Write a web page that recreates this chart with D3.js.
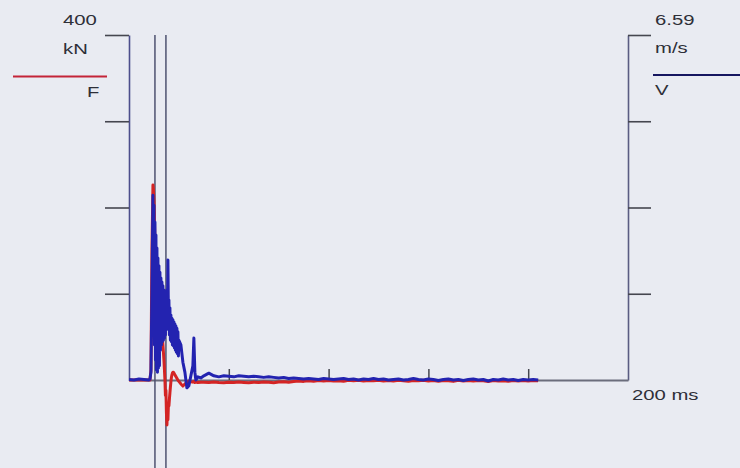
<!DOCTYPE html>
<html>
<head>
<meta charset="utf-8">
<script src="https://cdn.jsdelivr.net/npm/d3@7"></script>
<style>
  html, body { margin: 0; padding: 0; background: #e9ebf2; }
  svg { display: block; }
  text { font-family: "Liberation Sans", Arial, sans-serif; fill: #2e2f38; }
</style>
</head>
<body>
<svg id="chart" width="740" height="468"></svg>
<script>
// Sample times (ms) shared by both traces
const timeMs = [
  0, 2, 4, 6, 8, 8.4, 8.8, 9.2,
  9.6, 9.8, 10.0, 10.2, 10.4, 10.6, 10.8, 11.0, 11.2, 11.4,
  11.6, 11.8, 12.0, 12.2, 12.4, 12.6, 12.8, 13.0, 13.2, 13.4,
  13.6, 13.8, 14.0, 14.2, 14.4, 14.6, 14.8, 15.0, 15.2, 15.4,
  15.6, 15.8, 16.0, 16.2, 16.4, 16.6, 16.8, 17.0, 17.2, 17.4,
  17.6, 17.8, 18.0, 18.2, 18.4, 18.6, 18.8, 19.0, 19.2, 19.4,
  19.6, 19.8, 20.0,
  20.8, 21.6, 22.4, 23.2, 24.0, 24.8, 25.6, 26.0, 26.4, 26.8, 27.6, 28.8,
  30, 32, 34, 36, 38, 40, 42, 44, 46, 48, 50, 52, 54, 56, 58, 60, 62, 64, 66,
  68, 70, 72, 74, 76, 78, 80, 82, 84, 86, 88, 90, 92, 94, 96, 98, 100, 102, 104,
  106, 108, 110, 112, 114, 116, 118, 120, 122, 124, 126, 128, 130, 132, 134, 136,
  138, 140, 142, 144, 146, 148, 150, 152, 154, 156, 158, 160, 162, 164
];

// Force F (kN)
const forceKN = [
  0, 0, 0, 0, 0, 0, 11.6, 150.7,
  226.1, 220, 208.7, 185, 162.3, 138, 115.9, 100, 92.8, 98,
  104.3, 92, 81.2, 87, 92.8, 80, 69.6, 64, 58.0, 49,
  40.6, 32, 23.2, 12, 0, -18, -12, -38, -52.2, -36,
  -46, -28, -30, -22, -15, -8, -2, 3, 6, 8,
  9, 9, 8, 7, 6, 5, 4, 3, 2, 1,
  0, -1, -1.5,
  -4.6, -7.0, -4.6, -3.5, -1.2, -2.0, -2.5, -1.5, -2.8, -2.2, -3.0, -2.6,
  -2.5, -3.0, -2.2, -2.8, -3.2, -2.5, -3.0, -2.4, -2.9, -3.3, -2.6, -2.9, -2.2, -2.7, -3.1, -2.4, -2.0, -2.6, -1.8,
  -1.2, -1.6, -0.9, -1.4, -0.6, -1.1, -0.5, -1.3, -0.8, -1.5, -0.4, -1.0, -0.3, -1.2, -0.6, -0.9, -0.2, -1.1, -0.5,
  -1.3, -0.4, -0.8, -1.5, -0.6, -1.0, -0.3, -1.2, -0.7, -1.4, -0.5, -0.9, -1.6, -0.4, -1.1, -0.7,
  -1.3, -0.5, -1.0, -1.8, -0.6, -1.2, -0.8, -1.4, -0.5, -1.1, -0.7, -1.3, -0.6, -0.9
];

// Velocity V (m/s)
const velocityMS = [
  0.01, 0.00, 0.02, 0.01, 0.00, 0.02, 0.15, 1.72,
  3.53, 1.53, 3.34, 0.67, 3.02, 0.38, 2.77, 0.19, 2.52, 0.15,
  2.33, 0.23, 2.18, 0.27, 2.06, 0.57, 1.95, 0.67, 1.87, 0.73,
  1.80, 0.76, 1.72, 0.80, 1.64, 0.86, 1.60, 0.96, 1.72, 1.15,
  2.29, 1.24, 1.53, 0.86, 1.38, 0.76, 1.24, 0.73, 1.18, 0.67,
  1.15, 0.65, 1.11, 0.61, 1.07, 0.57, 1.03, 0.53, 0.99, 0.50,
  0.92, 0.46, 0.76,
  0.67, 0.34, 0.15, -0.15, -0.11, 0.08, 0.27, 0.80, 0.15, 0.00, 0.06, 0.04,
  0.08, 0.13, 0.08, 0.06, 0.08, 0.07, 0.06, 0.08, 0.07, 0.06, 0.07, 0.06, 0.05, 0.06, 0.05, 0.04, 0.05, 0.03, 0.04,
  0.03, 0.02, 0.03, 0.02, 0.01, 0.03, 0.02, 0.01, 0.02, 0.03, 0.01, 0.02, 0.00, 0.02, 0.01, 0.03, 0.01, 0.02, 0.00,
  0.01, 0.02, 0.00, 0.01, 0.03, 0.01, 0.00, 0.02, 0.01, -0.01, 0.01, 0.02, 0.00, 0.01, -0.01, 0.01,
  0.02, 0.00, 0.01, -0.02, 0.01, 0.00, 0.02, 0.00, 0.01, -0.01, 0.01, 0.00, 0.01, 0.00
];

// Axis settings and labels
const timeDomain = [0, 200];
const timeTicks = [40, 80, 120, 160];
const forceMax = 400;
const forceTicks = [100, 200, 300, 400];
const velocityMax = 6.59;
const velocityTickFractions = [0.25, 0.5, 0.75, 1];
const markerTimes = [10.4, 14.8];
const forceLabels = { top: "400", unit: "kN", name: "F" };
const velocityLabels = { top: "6.59", unit: "m/s", name: "V" };
const timeLabel = "200 ms";

const svg = d3.select("#chart");
const plotLeft = 129, plotRight = 628, plotTop = 35, plotBase = 380;

const x = d3.scaleLinear().domain(timeDomain).range([plotLeft, plotRight]);
const yF = d3.scaleLinear().domain([0, forceMax]).range([plotBase, plotTop]);
const yV = d3.scaleLinear().domain([0, velocityMax]).range([plotBase, plotTop]);

const axisColor = "#4c4e8c";
const tickColor = "#45464f";

// Left (force) axis
const gL = svg.append("g").attr("transform", `translate(${plotLeft},0)`)
  .call(d3.axisLeft(yF).tickValues(forceTicks).tickSize(24).tickSizeOuter(0).tickFormat(""));
gL.select(".domain").attr("stroke", axisColor).attr("stroke-width", 1.6);
gL.selectAll(".tick line").attr("stroke", tickColor).attr("stroke-width", 1.6);

// Right (velocity) axis
const gR = svg.append("g").attr("transform", `translate(${plotRight},0)`)
  .call(d3.axisRight(yV).tickValues(velocityTickFractions.map(f => f * velocityMax))
    .tickSize(23).tickSizeOuter(0).tickFormat(""));
gR.select(".domain").attr("stroke", "#5a5c82").attr("stroke-width", 1.6);
gR.selectAll(".tick line").attr("stroke", tickColor).attr("stroke-width", 1.6);

// Time baseline with upward ticks
const gB = svg.append("g").attr("transform", `translate(0,${plotBase})`)
  .call(d3.axisTop(x).tickValues(timeTicks).tickSize(11).tickSizeOuter(0).tickFormat(""));
gB.select(".domain").attr("stroke", "#6b6d7c").attr("stroke-width", 2);
gB.selectAll(".tick line").attr("stroke", tickColor).attr("stroke-width", 1.5);

// Event markers
svg.append("g").selectAll("line").data(markerTimes).join("line")
  .attr("x1", d => x(d)).attr("x2", d => x(d))
  .attr("y1", plotTop).attr("y2", 468)
  .attr("stroke", "#4e5270").attr("stroke-width", 1.5);

// Traces
const forceLine = d3.line().x((d, i) => x(timeMs[i])).y(d => yF(d));
const velocityLine = d3.line().x((d, i) => x(timeMs[i])).y(d => yV(d));

svg.append("path").datum(forceKN)
  .attr("d", forceLine)
  .attr("fill", "none").attr("stroke", "#d42424").attr("stroke-width", 3)
  .attr("stroke-linejoin", "round");

svg.append("path").datum(velocityMS)
  .attr("d", velocityLine)
  .attr("fill", "none").attr("stroke", "#2323b0").attr("stroke-width", 3)
  .attr("stroke-linejoin", "round");

// Legend swatches
svg.append("line").attr("x1", 13).attr("x2", 107).attr("y1", 76.5).attr("y2", 76.5)
  .attr("stroke", "#c42438").attr("stroke-width", 2);
svg.append("line").attr("x1", 653).attr("x2", 740).attr("y1", 75).attr("y2", 75)
  .attr("stroke", "#161660").attr("stroke-width", 2);

// Labels (wide lettering)
function label(txt, tx, ty) {
  svg.append("text")
    .attr("transform", `translate(${tx},${ty}) scale(1.45,1)`)
    .attr("font-size", 14)
    .text(txt);
}
label(forceLabels.top, 63, 25);
label(forceLabels.unit, 63, 54);
label(forceLabels.name, 87, 97);
label(velocityLabels.top, 655, 25);
label(velocityLabels.unit, 655, 53);
label(velocityLabels.name, 655, 95);
label(timeLabel, 632, 400);
</script>
</body>
</html>
